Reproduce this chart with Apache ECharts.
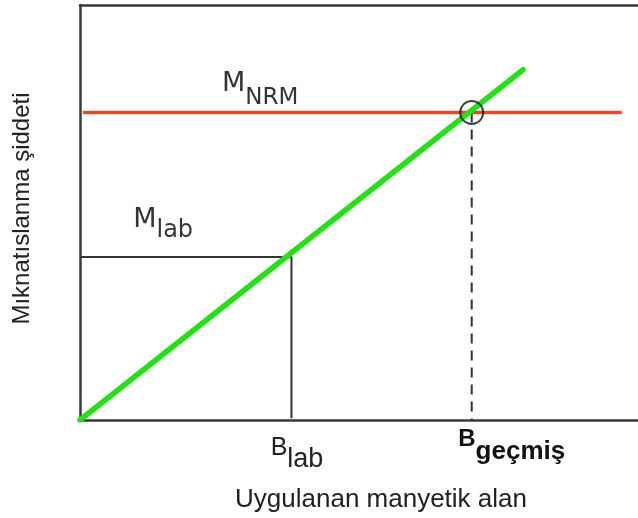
<!DOCTYPE html>
<html>
<head>
<meta charset="utf-8">
<script src="https://cdn.jsdelivr.net/npm/echarts@6/dist/echarts.min.js"></script>
<style>
  html, body { margin: 0; padding: 0; background: #fff; }
  #chart { width: 638px; height: 518px; }
</style>
</head>
<body>
<div id="chart"></div>
<script>
// Axis ranges (arbitrary units)
const xRange = [0, 10];
const yRange = [0, 10];

// Applied field values that get a tick label, with their subscripts
const tickFields = [3.79, 7.02];
const tickSubscripts = ['lab', 'geçmiş'];

// Laboratory magnetization reached at B_lab
const labMagnetization = 3.93;
// Natural remanent magnetization level and its horizontal extent
const nrmMagnetization = 7.41;
const nrmFieldSpan = [0.05, 9.71];

// Linear response of magnetization to applied field
const responseField = [0, 7.94];
const responseMagnetization = [0, 8.44];

// Annotation anchors: [field, magnetization]
const nrmLabelAt = [3.23, 7.93];
const labLabelAt = [1.49, 4.69];

const chart = echarts.init(document.getElementById('chart'));

const axisLineStyle = { color: '#3a3a3a', width: 2.5 };
const sans = 'Liberation Sans';

chart.setOption({
  animation: false,
  backgroundColor: '#ffffff',
  grid: { left: 80, right: 0, top: 5, bottom: 97 },
  xAxis: [
    {
      type: 'value',
      min: xRange[0], max: xRange[1],
      position: 'bottom',
      axisLine: { show: true, lineStyle: axisLineStyle },
      axisTick: { show: false },
      splitLine: { show: false },
      name: 'Uygulanan manyetik alan',
      nameLocation: 'middle',
      nameGap: 67,
      nameTextStyle: {
        fontFamily: sans, fontSize: 26, color: '#222',
        padding: [0, 0, 0, 44]
      },
      axisLabel: {
        show: true,
        customValues: tickFields,
        margin: 6,
        formatter: function (v) {
          const i = tickFields.indexOf(v);
          if (i === 1) return '{bb|B}{sb|' + tickSubscripts[i] + '}';
          return '{b|B}{s|' + tickSubscripts[i] + '}';
        },
        rich: {
          b: { fontFamily: sans, fontSize: 25, color: '#222', padding: [10, 0, 13, 11] },
          s: { fontFamily: sans, fontSize: 27, color: '#222', padding: [20, 0, 0, 0] },
          bb: { fontFamily: sans, fontSize: 24, fontWeight: 'bold', color: '#111', padding: [0, 0, 13, 80] },
          sb: { fontFamily: sans, fontSize: 26, fontWeight: 'bold', color: '#111', padding: [13, 0, 0, 0] }
        }
      }
    },
    {
      type: 'value',
      min: xRange[0], max: xRange[1],
      position: 'top',
      axisLine: { show: true, lineStyle: axisLineStyle },
      axisTick: { show: false },
      axisLabel: { show: false },
      splitLine: { show: false }
    }
  ],
  yAxis: {
    type: 'value',
    min: yRange[0], max: yRange[1],
    axisLine: { show: true, lineStyle: axisLineStyle },
    axisTick: { show: false },
    axisLabel: { show: false },
    splitLine: { show: false },
    name: 'Mıknatıslanma şiddeti',
    nameLocation: 'middle',
    nameGap: 46,
    nameRotate: 90,
    nameTextStyle: { fontFamily: sans, fontSize: 24, color: '#222', padding: [0, 0, 0, 8] }
  },
  series: [
    {
      // B_lab / M_lab guide lines
      type: 'line',
      data: [[xRange[0], labMagnetization], [tickFields[0], labMagnetization], [tickFields[0], 0.04]],
      symbol: 'none',
      lineStyle: { color: '#333', width: 2 },
      z: 2
    },
    {
      // Dashed drop from the intersection to B_geçmiş
      type: 'line',
      data: [[tickFields[1], nrmMagnetization], [tickFields[1], 0]],
      symbol: 'none',
      lineStyle: { color: '#333', width: 2, type: [10, 7] },
      z: 2
    },
    {
      // M_NRM level
      type: 'line',
      data: [[nrmFieldSpan[0], nrmMagnetization], [nrmFieldSpan[1], nrmMagnetization]],
      symbol: 'none',
      lineStyle: { color: '#e8472f', width: 3.5 },
      z: 3
    },
    {
      // Linear magnetization response
      type: 'line',
      data: responseField.map((f, i) => [f, responseMagnetization[i]]),
      symbol: 'none',
      lineStyle: { color: '#25e016', width: 5.5, cap: 'round' },
      z: 4
    },
    {
      // Intersection marker
      type: 'scatter',
      data: [[tickFields[1], nrmMagnetization]],
      symbol: 'circle',
      symbolSize: 23,
      itemStyle: { color: 'rgba(0,0,0,0)', borderColor: '#111', borderWidth: 2 },
      z: 5
    },
    {
      // Magnetization annotations
      type: 'scatter',
      symbolSize: 0,
      data: [
        { value: nrmLabelAt, label: { formatter: '{m|M}{s|NRM}' } },
        { value: labLabelAt, label: { formatter: '{m2|M}{s2|lab}' } }
      ],
      label: {
        show: true,
        position: 'inside',
        rich: {
          m: { fontFamily: 'DejaVu Sans', fontSize: 27, color: '#000', padding: [0, 0, 14, 0] },
          s: { fontFamily: 'DejaVu Sans', fontSize: 23, color: '#000', padding: [14, 0, 0, 0] },
          m2: { fontFamily: 'DejaVu Sans', fontSize: 27, color: '#000', padding: [0, 0, 10, 0] },
          s2: { fontFamily: 'DejaVu Sans', fontSize: 24, color: '#000', padding: [10, 0, 0, 0] }
        }
      },
      z: 6
    }
  ]
});
</script>
</body>
</html>
